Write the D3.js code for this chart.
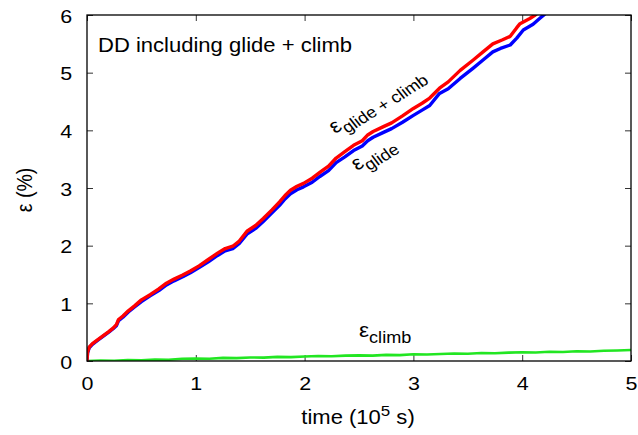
<!DOCTYPE html>
<html><head><meta charset="utf-8">
<script src="https://cdn.jsdelivr.net/npm/d3@7"></script>
<style>
body{margin:0;background:#fff;}
text{font-family:"Liberation Sans",Arial,Helvetica,sans-serif;fill:#000;}
</style></head>
<body><svg id="c" width="638" height="435"></svg>
<script>
// ---- data (time in 1e5 s, strain in %) ----
const xTicks = [0,1,2,3,4,5];
const yTicks = [0,1,2,3,4,5,6];
const timeRed = [0,0.005,0.02,0.05,0.10,0.15,0.20,0.24,0.27,0.29,0.33,0.38,0.44,0.50,0.58,0.66,0.73,0.80,0.88,0.95,1.03,1.115,1.20,1.27,1.34,1.40,1.47,1.55,1.62,1.70,1.77,1.82,1.87,1.93,1.99,2.07,2.14,2.22,2.29,2.37,2.45,2.53,2.58,2.63,2.72,2.80,2.90,3.00,3.08,3.15,3.24,3.32,3.43,3.55,3.64,3.73,3.82,3.89,3.95,3.98,4.07,4.12,4.16];
const glideClimb = [0,0.15,0.24,0.30,0.37,0.44,0.51,0.57,0.63,0.72,0.78,0.87,0.96,1.06,1.15,1.25,1.35,1.42,1.49,1.56,1.65,1.76,1.87,1.95,1.99,2.08,2.25,2.35,2.47,2.62,2.76,2.87,2.96,3.03,3.08,3.17,3.27,3.38,3.52,3.63,3.74,3.82,3.92,3.98,4.06,4.13,4.25,4.38,4.47,4.56,4.73,4.84,5.04,5.22,5.36,5.50,5.57,5.63,5.78,5.85,5.94,6.00,6.07];
const timeBlue = [0,0.005,0.02,0.05,0.10,0.15,0.20,0.24,0.27,0.29,0.33,0.38,0.44,0.50,0.58,0.66,0.73,0.80,0.88,0.95,1.03,1.115,1.20,1.27,1.34,1.40,1.47,1.55,1.62,1.70,1.77,1.82,1.87,1.93,1.99,2.07,2.14,2.22,2.29,2.37,2.45,2.53,2.58,2.63,2.72,2.80,2.90,3.00,3.08,3.15,3.24,3.32,3.43,3.55,3.64,3.73,3.80,3.89,3.95,4.01,4.10,4.16,4.21,4.25];
const glide = [0,0.14,0.23,0.29,0.36,0.43,0.50,0.56,0.61,0.70,0.76,0.85,0.94,1.03,1.13,1.22,1.32,1.39,1.46,1.53,1.62,1.72,1.83,1.91,1.95,2.04,2.20,2.30,2.42,2.57,2.70,2.81,2.90,2.97,3.02,3.10,3.20,3.30,3.44,3.54,3.65,3.73,3.82,3.88,3.96,4.03,4.14,4.26,4.35,4.43,4.64,4.72,4.90,5.08,5.22,5.36,5.42,5.48,5.60,5.74,5.84,5.94,6.02,6.08];
const timeGreen = [0,0.125,0.25,0.375,0.5,0.625,0.75,0.875,1.0,1.125,1.25,1.375,1.5,1.625,1.75,1.875,2.0,2.125,2.25,2.375,2.5,2.625,2.75,2.875,3.0,3.125,3.25,3.375,3.5,3.625,3.75,3.875,4.0,4.125,4.25,4.375,4.5,4.625,4.75,4.875,5.0];
const climb = [0,0.008,0.004,0.016,0.012,0.026,0.022,0.038,0.044,0.040,0.054,0.050,0.062,0.058,0.072,0.068,0.078,0.086,0.082,0.094,0.098,0.094,0.106,0.102,0.116,0.112,0.122,0.130,0.126,0.138,0.134,0.146,0.152,0.148,0.160,0.156,0.168,0.164,0.178,0.182,0.190];
const titleText = "DD including glide + climb";

// ---- layout ----
const L=87, R=631, T=15, B=361, SX=1.13;
const svg = d3.select("#c");
const x = d3.scaleLinear().domain([0,5]).range([L,R]);
const y = d3.scaleLinear().domain([0,6]).range([B,T]);

svg.append("clipPath").attr("id","clip").append("rect")
  .attr("x",L).attr("y",T).attr("width",R-L).attr("height",B-T);

function styleAxis(g){
  g.select(".domain").remove();
  g.selectAll(".tick line").attr("stroke","#333").attr("stroke-width",1);
  g.selectAll("text").attr("font-size","19px").attr("font-family",'"Liberation Sans",Arial,sans-serif');
}
// bottom
svg.append("g").attr("transform",`translate(0,${B})`)
  .call(d3.axisBottom(x).tickValues(xTicks).tickSize(-6).tickPadding(16).tickFormat(d3.format("d")))
  .call(styleAxis)
  .call(g=>g.selectAll("text").attr("transform",`scale(${SX},1)`));
// top
svg.append("g").attr("transform",`translate(0,${T})`)
  .call(d3.axisTop(x).tickValues(xTicks).tickSize(-6).tickFormat(""))
  .call(styleAxis);
// left
svg.append("g").attr("transform",`translate(${L},0)`)
  .call(d3.axisLeft(y).tickValues(yTicks).tickSize(-6).tickPadding(13).tickFormat(d3.format("d")))
  .call(styleAxis)
  .call(g=>g.selectAll("text").attr("dy","0.38em").attr("transform",`scale(${SX},1)`));
// right
svg.append("g").attr("transform",`translate(${R},0)`)
  .call(d3.axisRight(y).tickValues(yTicks).tickSize(-6).tickFormat(""))
  .call(styleAxis);

// lines
const plot = svg.append("g").attr("clip-path","url(#clip)");
function series(xs, ys){ return xs.map((t,i)=>[t,ys[i]]); }
const line = d3.line().x(d=>x(d[0])).y(d=>y(d[1]));
plot.append("path").datum(series(timeGreen,climb)).attr("d",line)
  .attr("fill","none").attr("stroke","#22e622").attr("stroke-width",2.6).attr("stroke-linejoin","round");
plot.append("path").datum(series(timeBlue,glide)).attr("d",line)
  .attr("fill","none").attr("stroke","#0000ff").attr("stroke-width",3.4).attr("stroke-linejoin","round");
plot.append("path").datum(series(timeRed,glideClimb)).attr("d",line)
  .attr("fill","none").attr("stroke","#ff0000").attr("stroke-width",3.4).attr("stroke-linejoin","round");

// border
svg.append("rect").attr("x",L).attr("y",T).attr("width",R-L).attr("height",B-T)
  .attr("fill","none").attr("stroke","#000").attr("stroke-width",1.3);

// title inside
svg.append("text").attr("transform",`translate(98,52) scale(${SX},1)`)
  .attr("font-size","19.5px").text(titleText);

// axis titles
const xt = svg.append("text").attr("transform",`translate(358,424) scale(${SX},1)`)
  .attr("text-anchor","middle").attr("font-size","19.5px");
xt.append("tspan").text("time (10");
xt.append("tspan").attr("dy","-8").attr("font-size","15px").text("5");
xt.append("tspan").attr("dy","8").text(" s)");

svg.append("text").attr("transform",`translate(32,190) scale(${SX},1) rotate(-90)`)
  .attr("text-anchor","middle").attr("font-size","19.5px").text("ε (%)");

// annotations (image-space horizontal stretch, like the reference)
function subLabel(tx, ty, ang, sub){
  const t = svg.append("text").attr("transform",`translate(${tx},${ty}) scale(${SX},1) rotate(${ang})`)
    .attr("font-size","20px");
  t.append("tspan").text("ε");
  t.append("tspan").attr("dy","6").attr("font-size","16px").text(sub);
  return t;
}
subLabel(335,134,-35,"glide + climb");
subLabel(357,171,-34,"glide");
subLabel(359,337,0,"climb");
</script></body></html>
